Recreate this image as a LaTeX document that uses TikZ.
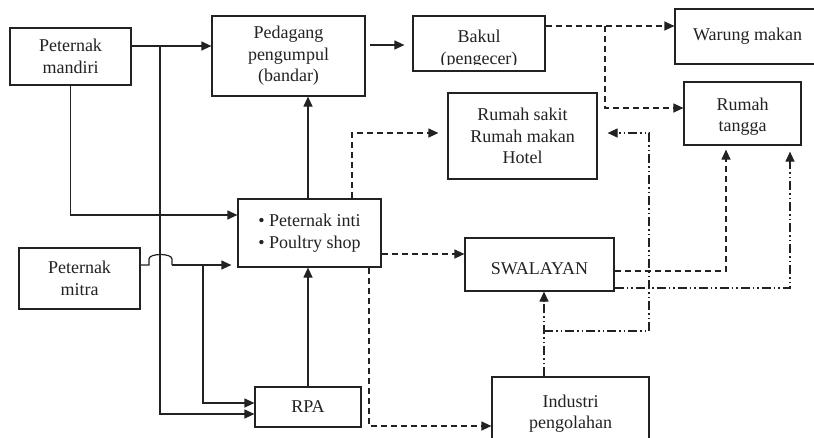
\documentclass[tikz,border=0pt]{standalone}
\usepackage{fontspec}
\setmainfont{Liberation Serif}
\usetikzlibrary{arrows.meta}
\definecolor{ink}{HTML}{222222}
\newcommand{\lowerby}[2]{\raisebox{-#1}[\height][\depth]{#2}}
\tikzset{
  box/.style={draw=ink, line width=1.2pt, inner sep=0pt, align=center, text=ink,
    font=\fontsize{18}{21.5}\selectfont},
  txt/.style={inner sep=0pt, align=center, text=ink, font=\fontsize{18}{21.5}\selectfont},
  conn/.style={draw=ink, line width=1.2pt, -{Triangle[length=10pt,width=9pt]}},
  plain/.style={draw=ink, line width=1.2pt},
  dsh/.style={dash pattern=on 6pt off 4pt},
  ddot/.style={dash pattern=on 9pt off 3pt on 1.5pt off 3pt on 1.5pt off 3pt}
}
\begin{document}
\begin{tikzpicture}[x=1pt,y=-1pt]
\useasboundingbox (0,0) rectangle (814,437);
\clip (0,0) rectangle (814,437);
\fill[white] (0,0) rectangle (814,437);

% boxes
\node[box, minimum width=121pt, minimum height=57pt] (mandiri) at (70.5,56.5) {Peternak\\mandiri};
\node[box, minimum width=153pt, minimum height=80pt] (pedagang) at (288.5,56) {Pedagang\\pengumpul\\(bandar)};
\node[box, minimum width=132pt, minimum height=55pt] (bakul) at (479,43.5) {};
\begin{scope}
\clip (bakul.north west) rectangle (545,64);
\node[txt] (bakultxt) at (479,49) {Bakul\\(pengecer)};
\end{scope}
\node[box, minimum width=145pt, minimum height=55pt] (warung) at (747.5,36.5) {Warung makan};
\node[box, minimum width=149pt, minimum height=86pt] (rs) at (522.5,136) {Rumah sakit\\Rumah makan\\Hotel};
\node[box, minimum width=117pt, minimum height=63pt] (rt) at (742.5,113.5) {\lowerby{3pt}{\begin{tabular}{@{}c@{}}Rumah\\tangga\end{tabular}}};
\node[box, minimum width=143pt, minimum height=68pt, align=left] (inti) at (309.5,233) {\textbullet\ Peternak inti\\\textbullet\ Poultry shop};
\node[box, minimum width=121pt, minimum height=61pt] (mitra) at (79.5,278.5) {Peternak\\mitra};
\node[box, minimum width=106pt, minimum height=40pt] (rpa) at (308,407) {RPA};
\node[box, minimum width=149pt, minimum height=53pt] (swalayan) at (539.5,264.5) {\lowerby{4pt}{SWALAYAN}};
\node[box, minimum width=157pt, minimum height=73pt] (industri) at (570.5,413.5) {Industri\\pengolahan};

% junctions
\coordinate (j1) at (160,46);
\coordinate (j2) at (203,265);
\coordinate (j3) at (605,26);
\coordinate (j4) at (544,331);
\coordinate (hop) at (172,265);

% solid connectors
\draw[conn] (mandiri.east |- 0,46) -- (pedagang.west |- 0,46);
\draw[conn] (j1) -- (j1 |- 0,414) -- (rpa.west |- 0,414);
\draw[conn] (mandiri.south) |- (inti.west |- 0,215);
\draw[plain] (mitra.east |- 0,265) -- (149,265) -- (149,259)
   .. controls (149,253) and (172,253) .. (172,259) -- (hop);
\draw[conn, shorten >=6pt] (hop) -- (inti.west |- hop);
\draw[conn] (j2) |- (rpa.west |- 0,403);
\draw[conn] (rpa.north) -- (rpa.north |- inti.south);
\draw[conn] (rpa.north |- inti.north) -- (rpa.north |- pedagang.south);
\draw[conn, shorten <=4pt, shorten >=8pt] (pedagang.east |- 0,45) -- (bakul.west |- 0,45);

% dashed connectors
\draw[conn, dsh] (bakul.east |- 0,26) -- (warung.west |- 0,26);
\draw[conn, dsh] (j3) |- (rt.west |- 0,108);
\draw[conn, dsh, shorten >=9pt] (inti.north -| 352,0) |- (rs.west |- 0,133);
\draw[conn, dsh] (inti.east |- 0,254) -- (swalayan.west |- 0,254);
\draw[conn, dsh] (inti.south -| 369,0) |- (industri.west |- 0,426);
\draw[conn, dsh, shorten >=4pt] (swalayan.east |- 0,271) -| (rt.south -| 726,0);

% dash-dot-dot connectors
\draw[conn, ddot, shorten >=6pt] (swalayan.east |- 0,288) -| (rt.south -| 790,0);
\draw[conn, ddot] (industri.north -| j4) -- (swalayan.south -| j4);
\draw[conn, ddot, shorten >=10pt] (j4) -| (649,133) -- (rs.east |- 0,133);
\end{tikzpicture}
\end{document}
